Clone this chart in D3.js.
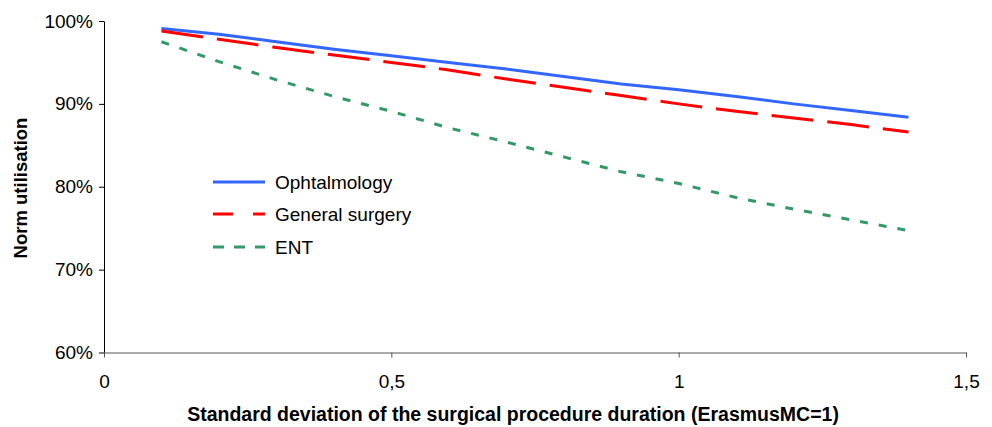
<!DOCTYPE html>
<html>
<head>
<meta charset="utf-8">
<script src="https://cdn.jsdelivr.net/npm/d3@7"></script>
<style>
  body { margin: 0; background: #fff; }
  svg text { font-family: "Liberation Sans", Arial, sans-serif; }
</style>
</head>
<body>
<script>
// x values: standard deviation relative to ErasmusMC
const sdValues = [0.1, 0.2, 0.3, 0.4, 0.5, 0.6, 0.7, 0.8, 0.9, 1.0, 1.1, 1.2, 1.3, 1.4];

// norm utilisation (%) per specialty
const ophtalmology = [99.1, 98.4, 97.5, 96.6, 95.8, 95.0, 94.2, 93.3, 92.4, 91.7, 90.9, 90.0, 89.2, 88.4];
const generalSurgery = [98.8, 97.8, 96.8, 95.9, 95.0, 94.1, 93.0, 92.0, 91.0, 90.0, 89.1, 88.3, 87.5, 86.6];
const ent = [97.5, 95.1, 92.9, 90.9, 89.1, 87.1, 85.4, 83.6, 81.8, 80.4, 78.7, 77.3, 76.0, 74.7];

const seriesNames = ['Ophtalmology', 'General surgery', 'ENT'];
const xTicks = [0, 0.5, 1, 1.5];
const yTicks = [60, 70, 80, 90, 100];

const width = 992, height = 427;

const svg = d3.select('body')
  .append('svg')
  .attr('width', width)
  .attr('height', height);

const x = d3.scaleLinear().domain([0, 1.5]).range([104, 966]);
const y = d3.scaleLinear().domain([60, 100]).range([352.5, 21]);

// y axis
const yAxis = svg.append('g')
  .attr('transform', 'translate(104,0)')
  .call(d3.axisLeft(y).tickValues(yTicks).tickSize(5).tickSizeOuter(0)
    .tickFormat(d => d + '%'));
yAxis.select('.domain').attr('stroke', '#000');
yAxis.selectAll('.tick line').attr('stroke', '#000');
yAxis.selectAll('.tick text')
  .attr('font-size', 19)
  .attr('fill', '#000')
  .attr('x', -11);

// x axis
const xAxis = svg.append('g')
  .attr('transform', 'translate(0,352.5)')
  .call(d3.axisBottom(x).tickValues(xTicks).tickSize(5).tickSizeOuter(0)
    .tickFormat(d => String(d).replace('.', ',')));
xAxis.select('.domain').attr('stroke', '#555');
xAxis.selectAll('.tick line').attr('stroke', '#555');
xAxis.selectAll('.tick text')
  .attr('font-size', 19)
  .attr('fill', '#000')
  .attr('dy', 0)
  .attr('y', 35);

// axis titles
svg.append('text')
  .attr('x', 513)
  .attr('y', 421)
  .attr('text-anchor', 'middle')
  .attr('font-size', 19.5)
  .attr('font-weight', 'bold')
  .text('Standard deviation of the surgical procedure duration (ErasmusMC=1)');

svg.append('text')
  .attr('transform', 'translate(27,188) rotate(-90)')
  .attr('text-anchor', 'middle')
  .attr('font-size', 18.5)
  .attr('font-weight', 'bold')
  .text('Norm utilisation');

// lines
const styles = [
  { values: ophtalmology, color: '#3366FF', dash: null, legendDash: null },
  { values: generalSurgery, color: '#FF0000', dash: '42,14', legendDash: '20,20' },
  { values: ent, color: '#339966', dash: '8,11', legendDash: '11,10' }
];

const lineFunc = d3.line()
  .x(d => x(d[0]))
  .y(d => y(d[1]));

styles.forEach(s => {
  svg.append('path')
    .attr('d', lineFunc(sdValues.map((v, i) => [v, s.values[i]])))
    .attr('fill', 'none')
    .attr('stroke', s.color)
    .attr('stroke-width', 3)
    .attr('stroke-dasharray', s.dash);
});

// legend
const legendY = [182, 214, 247];
styles.forEach((s, i) => {
  svg.append('line')
    .attr('x1', 213)
    .attr('x2', 265)
    .attr('y1', legendY[i])
    .attr('y2', legendY[i])
    .attr('stroke', s.color)
    .attr('stroke-width', 3)
    .attr('stroke-dasharray', s.legendDash);
  svg.append('text')
    .attr('x', 275)
    .attr('y', legendY[i] + 6.5)
    .attr('font-size', 19)
    .text(seriesNames[i]);
});
</script>
</body>
</html>
